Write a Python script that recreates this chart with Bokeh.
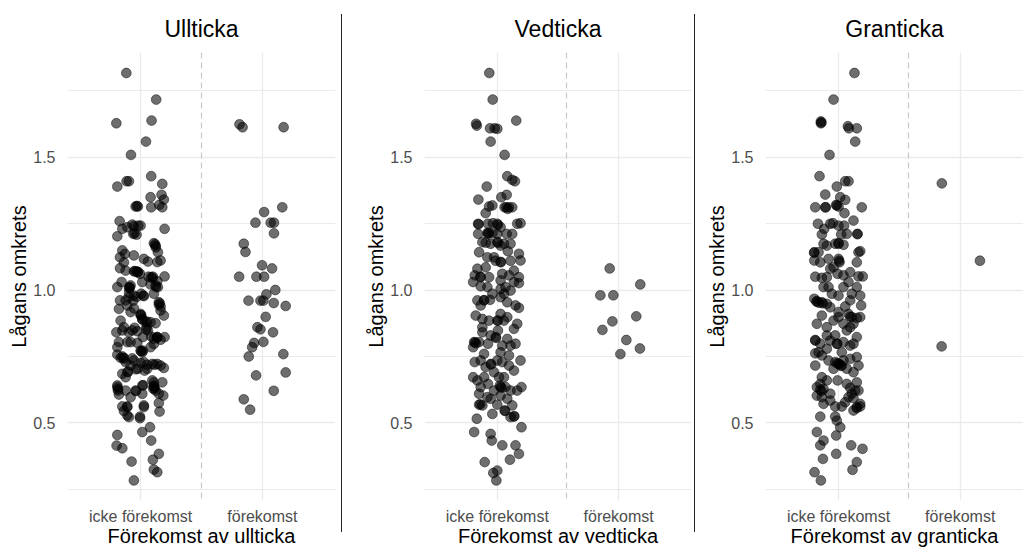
import numpy as np
from bokeh.plotting import figure
from bokeh.models import Span, FixedTicker, Div, Range1d
from bokeh.layouts import row
from bokeh.embed import file_html
from bokeh.resources import INLINE

categories = ["icke förekomst", "förekomst"]
panel_titles = ["Ullticka", "Vedticka", "Granticka"]
x_titles = ["Förekomst av ullticka", "Förekomst av vedticka", "Förekomst av granticka"]
y_title = "Lågans omkrets"
y_ticks = [0.5, 1.0, 1.5]
y_tick_labels = ["0.5", "1.0", "1.5"]
y_minor = [0.25, 0.75, 1.25, 1.75]

# ---- Ullticka ----
ull_icke_y = [1.816, 1.716, 1.627, 1.637, 1.558, 1.508, 1.409, 1.409, 1.389, 1.428, 1.399, 1.349, 1.358, 1.340,
              1.314, 1.314, 1.311, 1.320, 1.311, 1.259, 1.202, 1.230, 1.236, 1.246, 1.242, 1.242, 1.211, 1.208,
              1.230, 1.149, 1.123, 1.136, 1.130, 1.082, 1.104, 1.073, 1.117, 1.107, 1.176, 1.167, 1.142, 1.105,
              1.111, 1.071, 1.061, 1.067, 1.048, 1.033, 1.051, 1.011, 1.030, 1.011, 0.979, 0.986, 1.021, 1.011,
              0.986, 0.961, 0.961, 0.973, 0.979, 0.954, 0.938,
              0.929, 0.942, 0.917, 0.904, 0.923, 0.885, 0.860, 0.848, 0.841, 0.848, 0.910, 0.891, 0.879, 0.860,
              0.879, 0.875, 0.848, 0.841, 0.804, 0.804, 0.804, 0.823, 0.813, 0.823, 0.772, 0.766, 0.785, 0.797,
              0.785, 0.757, 0.745, 0.745, 0.729, 0.716, 0.735, 0.704, 0.729, 0.704, 0.722, 0.722, 0.716, 0.707,
              0.685, 0.672, 0.691, 0.641, 0.622, 0.607, 0.622, 0.597, 0.622, 0.610, 0.641, 0.660, 0.637, 0.622,
              0.610, 0.653, 0.603, 0.562, 0.562, 0.545, 0.522, 0.528, 0.566, 0.524, 0.575, 0.543, 0.466, 0.484,
              0.434, 0.455, 0.415, 0.405, 0.355, 0.284, 0.384, 0.362, 0.325, 0.315,
              1.316, 1.240, 1.213, 1.172, 1.160, 1.068, 1.045, 1.008, 0.950, 0.945, 0.990, 0.905, 0.750, 0.742,
              0.820, 0.635, 0.628, 0.640, 0.630, 0.560, 0.770,
              1.070, 1.070, 1.050, 1.050, 1.030, 1.017, 1.008, 0.974, 0.977, 1.017, 1.011, 0.960, 0.931, 0.905,
              0.889, 0.881, 0.858, 0.845, 0.852, 0.823, 0.825, 0.801, 0.817, 0.823, 0.743, 0.772, 0.726, 0.719,
              0.719, 0.702, 0.693, 0.697, 0.620, 0.642, 0.653, 0.629, 0.560, 0.518]
ull_icke_dx = [-0.117, 0.128, -0.199, 0.090, 0.044, -0.079, -0.115, -0.096, -0.191, 0.087, 0.178, 0.082, 0.172, 0.191,
               -0.041, -0.022, 0.087, 0.153, 0.178, -0.172, -0.191, -0.150, -0.109, -0.068, -0.019, 0.000, -0.060, -0.033,
               0.197, -0.150, -0.169, -0.128, -0.055, -0.169, -0.137, -0.123, 0.027, 0.060, 0.109, 0.123, 0.142, 0.137,
               0.164, -0.049, -0.005, -0.027, 0.087, 0.137, 0.197, -0.191, -0.156, -0.090, -0.055, 0.005, 0.082, 0.128,
               0.109, -0.169, -0.123, -0.096, 0.022, 0.150, 0.164,
               -0.178, -0.109, -0.082, 0.191, 0.164, -0.164, -0.137, -0.150, -0.096, -0.068, 0.000, 0.014, 0.041, 0.049,
               0.082, 0.123, 0.060, -0.199, -0.178, -0.109, -0.082, 0.137, 0.164, 0.197, 0.000, 0.014, 0.082, 0.109,
               -0.191, -0.191, -0.164, -0.137, -0.123, -0.082, -0.055, -0.022, 0.027, 0.055, 0.096, 0.137, 0.164, 0.191,
               -0.150, -0.123, -0.109, -0.191, -0.186, -0.178, -0.123, -0.082, -0.041, 0.014, 0.014, 0.096, 0.109, 0.123,
               0.150, 0.178, 0.186, -0.150, -0.109, -0.137, -0.096, -0.109, 0.027, -0.005, 0.150, 0.156, 0.014, 0.077,
               0.087, -0.191, -0.197, -0.150, -0.074, -0.055, 0.150, 0.101, 0.109, 0.137,
               -0.030, -0.055, -0.050, 0.118, 0.125, -0.020, 0.098, -0.095, 0.158, 0.150, -0.095, 0.005, -0.150, -0.140,
               0.135, -0.190, -0.185, 0.110, 0.115, -0.110, 0.005,
               -0.054, -0.033, 0.065, 0.101, 0.014, -0.082, -0.090, -0.033, 0.027, 0.123, 0.142, -0.060, -0.054, 0.000,
               0.014, 0.054, -0.049, -0.027, 0.046, 0.019, 0.087, -0.027, 0.109, 0.136, -0.068, 0.019, 0.000, 0.054,
               0.114, -0.038, -0.101, 0.033, -0.038, 0.022, 0.109, 0.104, 0.027, -0.005]
ull_fk_y = [1.623, 1.612, 1.612, 1.311, 1.293, 1.253, 1.253, 1.253, 1.213, 1.174, 1.143, 1.093, 1.081, 1.050,
            1.050, 1.050, 0.984, 1.000, 0.960, 0.960, 0.960, 0.951, 0.940, 0.899, 0.860, 0.852, 0.841, 0.801,
            0.785, 0.805, 0.750, 0.759, 0.679, 0.690, 0.621, 0.589, 0.550]
ull_fk_dx = [-0.188, -0.163, 0.174, 0.163, 0.014, -0.057, 0.068, 0.095, 0.095, -0.153, -0.139, -0.003, 0.079, -0.191,
             -0.049, 0.014, 0.033, 0.106, -0.114, -0.016, 0.008, 0.093, 0.191, 0.027, -0.041, -0.016, 0.087, -0.068,
             -0.084, 0.008, -0.112, 0.172, -0.052, 0.191, 0.093, -0.153, -0.101]

# ---- Vedticka ----
ved_icke_y = [1.816, 1.716, 1.625, 1.618, 1.608, 1.608, 1.606, 1.637, 1.558, 1.508, 1.428, 1.414, 1.409, 1.389,
              1.340, 1.349, 1.358, 1.311, 1.311, 1.311, 1.314, 1.318, 1.289, 1.249, 1.211, 1.249, 1.251, 1.249,
              1.236, 1.211, 1.213, 1.211, 1.211, 1.211, 1.249, 1.251, 1.180, 1.174, 1.180, 1.167, 1.174, 1.142,
              1.123, 1.123, 1.105, 1.146, 1.136, 1.111, 1.080, 1.055, 1.048, 1.048, 1.061, 1.055, 1.073, 1.048,
              1.030, 1.014, 1.011, 1.004, 1.011, 0.998, 1.026, 0.961, 0.961, 0.963, 0.973, 0.954, 0.942, 0.933,
              0.904, 0.891, 0.885, 0.885, 0.910, 0.898, 0.854, 0.873, 0.848, 0.804, 0.804, 0.841, 0.798, 0.823,
              0.791, 0.816, 0.798, 0.729, 0.735, 0.710, 0.722, 0.735, 0.729, 0.716, 0.697, 0.735, 0.672, 0.660,
              0.672, 0.647, 0.672, 0.635, 0.635, 0.622, 0.622, 0.635, 0.610, 0.597, 0.569, 0.566, 0.591, 0.569,
              0.547, 0.566, 0.524, 0.516, 0.466, 0.459, 0.434, 0.416, 0.416, 0.384, 0.484, 0.353, 0.312, 0.321,
              0.284, 0.362,
              1.311, 1.305, 1.215, 1.178, 1.247, 1.105, 1.050, 0.962, 0.803, 0.800, 0.820, 0.720, 0.633, 0.640,
              0.545, 0.570, 0.526, 0.885,
              1.215, 1.245, 1.178, 1.174, 1.110, 1.110, 1.085, 1.036, 1.030, 0.986, 0.986, 0.942, 0.885, 0.860,
              0.829, 0.791, 0.785, 0.760, 0.766, 0.754, 0.691, 0.672, 0.635, 0.622, 0.603, 0.591, 0.534, 0.522]
ved_icke_dx = [-0.066, -0.038, -0.175, -0.169, -0.060, -0.022, 0.000, 0.156, -0.055, 0.060, 0.082, 0.123, 0.145, -0.087,
               -0.156, 0.033, 0.077, 0.060, 0.096, 0.123, -0.068, -0.041, -0.096, -0.158, -0.158, -0.077, -0.036, 0.000,
               0.027, -0.077, -0.041, 0.000, 0.077, 0.123, 0.164, 0.191, -0.123, -0.055, 0.000, 0.027, 0.109, -0.150,
               -0.082, -0.027, 0.027, 0.087, 0.178, 0.191, -0.164, -0.186, -0.137, -0.068, 0.041, 0.096, 0.137, 0.178,
               -0.199, -0.137, -0.082, 0.027, 0.068, 0.109, 0.178, -0.164, -0.109, -0.060, 0.027, 0.082, 0.150, 0.178,
               -0.178, -0.123, -0.068, 0.000, 0.027, 0.082, 0.137, 0.164, 0.005, -0.191, -0.150, -0.123, -0.077, -0.014,
               0.041, 0.082, 0.150, -0.186, -0.137, -0.096, -0.055, 0.000, 0.041, 0.096, 0.137, 0.191, -0.199, -0.164,
               -0.109, -0.077, 0.014, 0.027, 0.068, 0.109, 0.164, 0.199, -0.150, -0.082, -0.150, -0.123, -0.055, 0.000,
               0.060, 0.123, 0.137, -0.169, -0.191, -0.055, -0.046, 0.041, 0.150, 0.178, 0.199, -0.104, -0.033, 0.000,
               -0.008, 0.104,
               0.075, 0.085, -0.070, 0.005, -0.155, 0.030, -0.140, -0.110, -0.185, -0.175, -0.010, -0.050, 0.035, 0.020,
               0.065, -0.140, 0.140, 0.005,
               -0.080, 0.005, -0.095, 0.055, -0.014, 0.109, -0.096, 0.027, 0.137, -0.041, 0.055, -0.137, 0.055, -0.123,
               -0.055, 0.109, -0.199, -0.109, 0.027, 0.096, -0.027, 0.055, -0.137, -0.027, 0.027, 0.082, -0.041, 0.109]
ved_fk_y = [1.081, 1.021, 0.980, 0.980, 0.901, 0.882, 0.850, 0.812, 0.780, 0.759]
ved_fk_dx = [-0.074, 0.178, -0.151, -0.044, 0.145, -0.052, -0.134, 0.063, 0.175, 0.014]

# ---- Granticka ----
gran_icke_y = [1.816, 1.716, 1.634, 1.627, 1.616, 1.608, 1.608, 1.558, 1.508, 1.428, 1.409, 1.409, 1.389, 1.359,
               1.349, 1.339, 1.311, 1.311, 1.320, 1.314, 1.311, 1.289, 1.261, 1.249, 1.249, 1.251, 1.242, 1.242,
               1.230, 1.209, 1.209, 1.211, 1.174, 1.174, 1.176, 1.170, 1.142, 1.142, 1.111, 1.104, 1.142, 1.146,
               1.117, 1.117, 1.080, 1.104, 1.104, 1.050, 1.046, 1.048, 1.061, 1.055, 1.067, 1.051, 1.051, 1.011,
               1.011, 0.979, 1.011, 0.986, 1.011, 0.979, 0.967, 0.958, 0.954, 0.948,
               0.938, 0.942, 0.904, 0.885, 0.898, 0.910, 0.898, 0.895, 0.898, 0.873, 0.860, 0.848, 0.860, 0.812,
               0.798, 0.810, 0.798, 0.804, 0.791, 0.798, 0.762, 0.766, 0.754, 0.735, 0.729, 0.722, 0.716, 0.704,
               0.748, 0.716, 0.716, 0.741, 0.672, 0.647, 0.628, 0.603, 0.597, 0.610, 0.660, 0.647, 0.632, 0.622,
               0.653, 0.597, 0.594, 0.572, 0.562, 0.562, 0.547, 0.556, 0.562, 0.524, 0.524, 0.509, 0.484, 0.466,
               0.434, 0.416, 0.453, 0.416, 0.403, 0.365, 0.384, 0.353, 0.324, 0.315, 0.284,
               1.630, 1.311, 1.318, 1.174, 1.110, 1.210, 1.140, 0.956, 0.952, 0.950, 0.722, 0.715, 0.725, 0.625,
               0.620, 0.560, 0.900, 0.810, 0.798,
               1.167, 1.211, 1.086, 1.030, 0.986, 0.961, 0.935, 0.917, 0.873, 0.873, 0.829, 0.829, 0.823, 0.779,
               0.766, 0.704, 0.735, 0.691, 0.660, 0.635, 0.610, 0.622, 0.584, 0.578, 0.572]
gran_icke_dx = [0.131, -0.041, -0.145, -0.145, 0.077, 0.085, 0.150, 0.137, -0.074, -0.156, 0.055, 0.082, -0.014, -0.109,
                0.014, 0.055, -0.191, -0.109, -0.019, 0.000, 0.191, 0.049, 0.123, -0.169, -0.068, -0.046, 0.000, 0.046,
                -0.117, -0.137, 0.022, 0.156, -0.123, -0.027, 0.000, 0.041, -0.199, -0.164, -0.199, -0.150, 0.164, 0.178,
                -0.082, 0.000, -0.068, 0.008, 0.150, -0.191, -0.137, -0.096, -0.008, 0.041, 0.096, 0.164, 0.199, -0.123,
                -0.082, 0.000, 0.041, 0.109, 0.150, 0.178, -0.199, -0.178, -0.137, -0.096,
                0.055, 0.186, -0.137, -0.041, 0.000, 0.082, 0.109, 0.150, 0.178, -0.178, -0.096, 0.068, 0.096, -0.191,
                -0.150, -0.068, -0.014, 0.041, 0.096, 0.123, -0.191, -0.164, -0.137, -0.082, -0.027, 0.000, 0.027, 0.068,
                0.150, 0.164, -0.191, 0.096, -0.137, -0.150, -0.123, -0.178, -0.137, -0.068, -0.008, 0.068, 0.096, 0.137,
                0.150, 0.082, 0.123, -0.123, -0.027, 0.027, 0.123, 0.150, 0.178, -0.150, -0.027, -0.014, 0.014, -0.178,
                -0.123, -0.150, -0.019, 0.104, 0.197, -0.128, -0.019, 0.150, 0.115, -0.197, -0.145,
                -0.140, -0.105, -0.015, 0.000, 0.005, 0.155, -0.200, -0.180, -0.160, -0.130, 0.005, 0.020, -0.010, -0.150,
                -0.140, 0.150, 0.095, -0.190, -0.010,
                -0.096, 0.068, -0.041, 0.082, -0.055, 0.096, -0.068, 0.000, 0.123, 0.041, -0.096, -0.027, 0.150, -0.096,
                0.027, -0.041, 0.041, 0.123, -0.096, -0.178, 0.109, 0.164, -0.068, 0.055, 0.178]
gran_fk_y = [1.401, 1.110, 0.788]
gran_fk_dx = [-0.151, 0.162, -0.153]

# position of the dashed divider line in each panel (x units)
divider_x = [1.5, 1.57, 1.575]

FONT = "Liberation Sans"
GRID = "#ebebeb"


def make_panel(title, xtitle, icke_y, icke_dx, fk_y, fk_dx, frame_w, b_left, b_right, x_end, div_x):
    p = figure(frame_width=frame_w, frame_height=448, output_backend="svg", toolbar_location=None,
               x_range=Range1d(0.4, x_end), y_range=Range1d(0.2086, 1.893),
               min_border_left=b_left, min_border_right=b_right,
               min_border_top=52, min_border_bottom=48)
    p.outline_line_color = None
    p.background_fill_color = "white"
    p.border_fill_color = "white"

    p.title.text = title
    p.title.align = "center"
    p.title.text_font = FONT
    p.title.text_font_size = "23px"
    p.title.text_font_style = "normal"
    p.title.text_color = "#000000"
    p.title.standoff = 22

    yt = FixedTicker(ticks=y_ticks, minor_ticks=y_minor)
    xt = FixedTicker(ticks=[1, 2])
    p.yaxis.ticker = yt
    p.ygrid.ticker = yt
    p.xaxis.ticker = xt
    p.xgrid.ticker = xt
    p.yaxis.major_label_overrides = {0.5: y_tick_labels[0], 1: y_tick_labels[1], 1.5: y_tick_labels[2]}
    p.xaxis.major_label_overrides = {1: categories[0], 2: categories[1]}

    for ax in (p.xaxis[0], p.yaxis[0]):
        ax.axis_line_color = None
        ax.major_tick_line_color = None
        ax.minor_tick_line_color = None
        ax.major_tick_out = 0
        ax.major_tick_in = 0
        ax.major_label_text_font = FONT
        ax.major_label_text_font_size = "16px"
        ax.major_label_text_color = "#4d4d4d"
        ax.axis_label_text_font = FONT
        ax.axis_label_text_font_size = "20px"
        ax.axis_label_text_font_style = "normal"
        ax.axis_label_text_color = "#000000"
    p.xaxis.axis_label = xtitle
    p.yaxis.axis_label = y_title
    p.xaxis.major_label_standoff = 7
    p.xaxis.axis_label_standoff = -3
    p.yaxis.major_label_standoff = 8
    p.yaxis.axis_label_standoff = 0

    p.ygrid.grid_line_color = GRID
    p.ygrid.grid_line_width = 1.3
    p.ygrid.minor_grid_line_color = GRID
    p.ygrid.minor_grid_line_width = 1.0
    p.xgrid.grid_line_color = GRID
    p.xgrid.grid_line_width = 1.3

    p.add_layout(Span(location=div_x, dimension="height", line_color="#c8c8c8",
                      line_width=1.2, line_dash="6 4"))

    xs = list(1 + np.array(icke_dx)) + list(2 + np.array(fk_dx))
    ys = list(icke_y) + list(fk_y)
    p.scatter(xs, ys, size=9.8, fill_color="black", fill_alpha=0.57,
              line_color="black", line_alpha=0.57, line_width=0.8)
    return p


p1 = make_panel(panel_titles[0], x_titles[0], ull_icke_y, ull_icke_dx, ull_fk_y, ull_fk_dx,
                268, 67, 6, 2.6, divider_x[0])
p2 = make_panel(panel_titles[1], x_titles[1], ved_icke_y, ved_icke_dx, ved_fk_y, ved_fk_dx,
                267, 82, 3, 2.6, divider_x[1])
p3 = make_panel(panel_titles[2], x_titles[2], gran_icke_y, gran_icke_dx, gran_fk_y, gran_fk_dx,
                258, 70, 0, 0.4 + 258 / 121.7, divider_x[2])


def separator():
    return Div(text="", width=1, height=518, margin=(14, 0, 16, 0),
               styles={"background-color": "#262626"})


layout = row(p1, separator(), p2, separator(), p3)
layout.spacing = 0

open("out.html", "w").write(file_html(layout, INLINE))
